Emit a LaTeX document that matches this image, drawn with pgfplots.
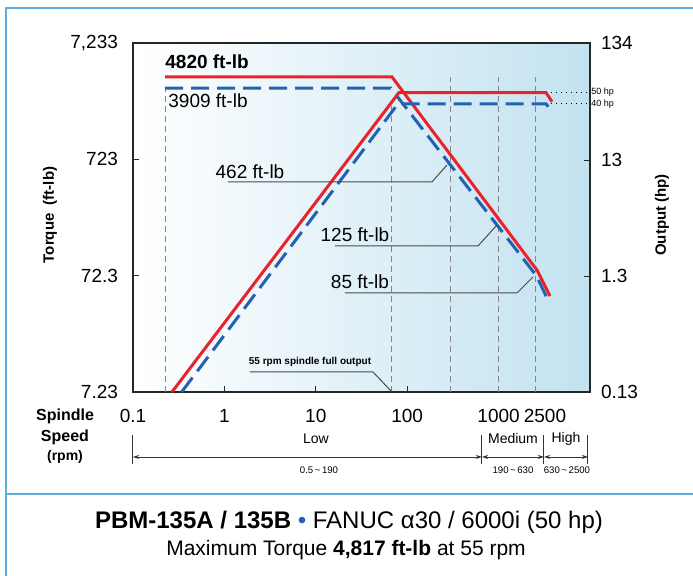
\documentclass[border=0pt]{standalone}
\usepackage{fontspec}
\setmainfont{Liberation Sans}
\usepackage{pgfplots}
\pgfplotsset{compat=1.18}
\usetikzlibrary{arrows.meta}
\definecolor{torqred}{HTML}{E8232B}
\definecolor{hpblue}{HTML}{2262B0}
\definecolor{frameblue}{HTML}{5AAEE2}
\definecolor{panelblue}{HTML}{C2E2F0}
\definecolor{guide}{HTML}{858585}
\definecolor{leader}{HTML}{4A4A4A}

\newcommand{\fs}[1]{\fontsize{#1}{#1}\selectfont}

\begin{document}
\begin{tikzpicture}[x=0.5pt,y=0.5pt]
\useasboundingbox (0,0) rectangle (693,576);
\fill[white] (0,0) rectangle (693,576);
% frame
\draw[frameblue, line width=1.3pt] (6,0) -- (6,568) -- (693,568);
\draw[frameblue, line width=1.1pt] (6,82) -- (693,82);

% torque axis (left)
\begin{axis}[
    at={(66.5pt,92pt)}, anchor=south west,
    width=228.5pt, height=174.5pt, scale only axis,
    xmode=log, ymode=log,
    xmin=0.1, xmax=10000, ymin=7.233, ymax=7233,
    axis background/.style={left color=white, right color=panelblue},
    axis line style={line width=0.9pt, black!85},
    tick align=inside, xtick pos=bottom, ytick pos=left,
    xminorticks=false, yminorticks=false,
    major tick length=3pt,
    tick style={black!85, line width=0.6pt},
    xtick={0.1,1,10,100,1000}, xticklabels={0.1,1,10,100,1000},
    extra x ticks={2500}, extra x tick labels={2500},
    extra x tick style={major tick length=0pt, xticklabel style={xshift=5pt}},
    ytick={7.23,72.3,723,7233}, yticklabels={7.23,72.3,723,{7,233}},
    xticklabel style={font=\fs{9.5}, yshift=-5pt},
    yticklabel style={font=\fs{9.5}, xshift=-4pt},
    clip=false,
]
% guide lines
\addplot[guide, densely dashed, line width=0.45pt] coordinates {(0.224,7.233) (0.224,2966)};
\addplot[guide, densely dashed, line width=0.45pt] coordinates {(68,7.233) (68,2100)};
\addplot[guide, densely dashed, line width=0.45pt] coordinates {(295,7.233) (295,3690)};
\addplot[guide, densely dashed, line width=0.45pt] coordinates {(1000,7.233) (1000,3690)};
\addplot[guide, densely dashed, line width=0.45pt] coordinates {(2500,7.233) (2500,3690)};
% torque curves
\addplot[hpblue, line width=1.5pt, dash pattern=on 9pt off 4pt] coordinates {
  (0.224,2966) (66,2966) (2600,72) (3470,44.6)};
\addplot[torqred, line width=1.5pt] coordinates {
  (0.224,3690) (68.2,3690) (2630,80.8) (3650,48.3)};
\end{axis}

% output axis (right)
\begin{axis}[
    at={(66.5pt,92pt)}, anchor=south west,
    width=228.5pt, height=174.5pt, scale only axis,
    xmode=log, ymode=log,
    xmin=0.1, xmax=10000, ymin=0.13, ymax=134,
    axis x line=none, axis y line*=right,
    axis line style={line width=0.9pt, black!85},
    tick align=inside, ytick pos=right,
    yminorticks=false, xminorticks=false,
    major tick length=3pt,
    tick style={black!85, line width=0.6pt},
    ytick={0.13,1.3,13,134}, yticklabels={0.13,1.3,13,134},
    yticklabel style={font=\fs{9.5}, xshift=2pt},
    clip=false,
]
\addplot[black, dotted, line width=0.5pt] coordinates {(3300,50) (10000,50)};
\addplot[black, dotted, line width=0.5pt] coordinates {(3300,40) (10000,40)};
\addplot[hpblue, line width=1.5pt, dash pattern=on 9pt off 4pt] coordinates {
  (0.341,0.13) (79.2,40) (3300,40) (3840,34.2)};
\addplot[torqred, line width=1.5pt] coordinates {
  (0.267,0.13) (81.3,50) (3300,50) (3840,41.7)};
\node[anchor=west, font=\fs{4.5}, inner sep=0.5pt] at (axis cs:10000,50) {50 hp};
\node[anchor=west, font=\fs{4.5}, inner sep=0.5pt] at (axis cs:10000,40) {40 hp};
\end{axis}

% annotations
\node[anchor=west, font=\bfseries\fs{9.5}, inner sep=0pt] at (165,514) {4820 ft-lb};
\node[anchor=west, font=\fs{9.5}, inner sep=0pt] at (168,475) {3909 ft-lb};
\node[font=\fs{9.5}, inner sep=0pt] at (250,404) {462 ft-lb};
\node[font=\fs{9.5}, inner sep=0pt] at (355,341) {125 ft-lb};
\node[font=\fs{9.5}, inner sep=0pt] at (360,294) {85 ft-lb};
\node[font=\bfseries\fs{5}, inner sep=0pt] at (310,214) {55 rpm spindle full output};
\draw[leader, line width=0.5pt] (228,394) -- (432,394) -- (447,411);
\draw[leader, line width=0.5pt] (335,330) -- (478,330) -- (497,351);
\draw[leader, line width=0.5pt] (345,283) -- (517,283) -- (533,299);
\draw[leader, line width=0.5pt] (250,204) -- (373,204) -- (392,184);

% axis titles
\node[rotate=90, font=\bfseries\fs{7.5}] at (50,361) {Torque\ \ (ft-lb)};
\node[rotate=90, font=\bfseries\fs{7.5}] at (662,361) {Output\ (hp)};
\node[font=\bfseries\fs{8}] at (65,160) {Spindle};
\node[font=\bfseries\fs{8}] at (65,139) {Speed};
\node[font=\bfseries\fs{7}] at (65,119) {(rpm)};

% speed ranges
\foreach \xx in {133,482,544,588} \draw[black!80, line width=0.5pt] (\xx,141) -- (\xx,112);
\draw[black!80, line width=0.4pt, {Stealth[length=3pt,width=2pt]}-{Stealth[length=3pt,width=2pt]}] (133,119) -- (482,119);
\draw[black!80, line width=0.4pt, {Stealth[length=3pt,width=2pt]}-{Stealth[length=3pt,width=2pt]}] (482,119) -- (544,119);
\draw[black!80, line width=0.4pt, {Stealth[length=3pt,width=2pt]}-{Stealth[length=3pt,width=2pt]}] (544,119) -- (588,119);
\node[font=\fs{7}] at (316,137) {Low};
\node[font=\fs{7}] at (513,137) {Medium};
\node[font=\fs{7}] at (566,137) {High};
\node[font=\fs{4.8}] at (319,106) {0.5\,\textasciitilde\,190};
\node[font=\fs{4.8}] at (513,106) {190\,\textasciitilde\,630};
\node[font=\fs{4.8}] at (567,106) {630\,\textasciitilde\,2500};

% title
\node[font=\fs{12}] at (349,54) {\textbf{PBM-135A / 135B} {\color{hpblue}•} FANUC α30 / 6000i (50 hp)};
\node[font=\fs{10.5}] at (346,26) {Maximum Torque \textbf{4,817 ft-lb} at 55 rpm};
\end{tikzpicture}
\end{document}
